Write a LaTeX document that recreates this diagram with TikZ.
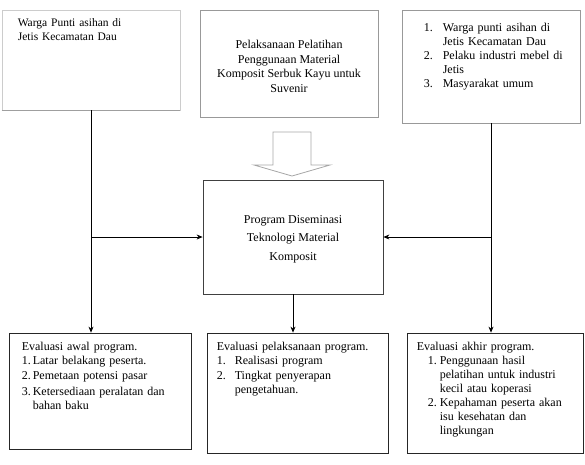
\documentclass[tikz,border=0pt]{standalone}
\usepackage{fontspec}
\setmainfont{Liberation Serif}
\usepackage{enumitem}
\usetikzlibrary{arrows.meta,calc}

\begin{document}
\begin{tikzpicture}[x=1pt,y=-1pt,font=\fontsize{12}{14}\selectfont,
  box/.style={draw=black!85,line width=0.8pt,inner sep=0pt},
  txt/.style={anchor=north west,inner sep=0pt,align=left},
  arr/.style={-{Stealth[length=6pt,width=5pt]},line width=0.7pt}]
\useasboundingbox (0,0) rectangle (585,464);
% upper row
\node[box,draw=gray!40,minimum width=178,minimum height=100] (warga) at (91,60) {};
\draw[gray!75,line width=1.8pt] (warga.south west) -- (warga.south east);
\node[box,draw=gray!80,minimum width=178,minimum height=107] (pelatihan) at (289,63.5) {};
\node[box,draw=gray!80,minimum width=178,minimum height=113] (sasaran) at (491,66.5) {};
\node[txt,text width=160,font=\fontsize{11.5}{14}\selectfont] (wargaTxt) at ($(warga.north west)+(16,9)$) {Warga Punti asihan di\\Jetis Kecamatan Dau};
\node[inner sep=0pt,align=center,font=\fontsize{12}{14.5}\selectfont] (pelatihanTxt) at ($(pelatihan.center)+(0,3)$)
  {Pelaksanaan Pelatihan\\Penggunaan Material\\Komposit Serbuk Kayu untuk\\Suvenir};
\node[txt,text width=150] (sasaranTxt) at ($(sasaran.north west)+(22,8)$) {%
  \begin{enumerate}[nosep,label=\arabic*.,leftmargin=19pt,labelwidth=13pt,labelsep=6pt,align=left]
  \item Warga punti asihan di\\Jetis Kecamatan Dau
  \item Pelaku industri mebel di\\Jetis
  \item Masyarakat umum
  \end{enumerate}};
% block arrow
\draw[gray!70,line width=0.8pt] (273,132) -- (311,132) -- (311,165) -- (330,165) -- (292,176)
  -- (254,165) -- (273,165) -- cycle;
% middle
\node[box,draw=black!75,minimum width=180,minimum height=114] (program) at (293,237) {};
\node[inner sep=0pt,align=center,font=\fontsize{12}{18.5}\selectfont] (programTxt) at ($(program.center)+(0,2)$)
  {Program Diseminasi\\Teknologi Material\\Komposit};
% lower row
\node[box,minimum width=182,minimum height=116] (awal) at (100,391) {};
\node[box,minimum width=181,minimum height=120] (pelaksanaan) at (297.5,393) {};
\node[box,minimum width=176,minimum height=120] (akhir) at (495,393) {};
\node[txt,text width=165] (awalTxt) at ($(awal.north west)+(13,9)$) {%
  Evaluasi awal program.
  \begin{enumerate}[nosep,itemsep=1.5pt,label=\arabic*.,leftmargin=11pt,labelwidth=9pt,labelsep=2pt,align=left]
  \item Latar belakang peserta.
  \item Pemetaan potensi pasar
  \item Ketersediaan peralatan dan\\bahan baku
  \end{enumerate}};
\node[txt,text width=170] (pelaksanaanTxt) at ($(pelaksanaan.north west)+(10,9)$) {%
  Evaluasi pelaksanaan program.
  \begin{enumerate}[nosep,itemsep=1.5pt,label=\arabic*.,leftmargin=18pt,labelwidth=12pt,labelsep=6pt,align=left]
  \item Realisasi program
  \item Tingkat penyerapan\\pengetahuan.
  \end{enumerate}};
\node[txt,text width=165] (akhirTxt) at ($(akhir.north west)+(10,9)$) {%
  Evaluasi akhir program.
  \begin{enumerate}[nosep,label=\arabic*.,leftmargin=23pt,labelwidth=11pt,labelsep=1pt,align=left]
  \item Penggunaan hasil\\pelatihan untuk industri\\kecil atau koperasi
  \item Kepahaman peserta akan\\isu kesehatan dan\\lingkungan
  \end{enumerate}};
% connectors
\draw[arr] (warga.south) -- (warga.south |- awal.north);
\draw[arr] (sasaran.south) -- (sasaran.south |- akhir.north);
\draw[arr] (program.south) -- (program.south |- pelaksanaan.north);
\draw[arr] (warga.south |- program.west) -- (program.west);
\draw[arr] (sasaran.south |- program.east) -- (program.east);
\end{tikzpicture}
\end{document}
